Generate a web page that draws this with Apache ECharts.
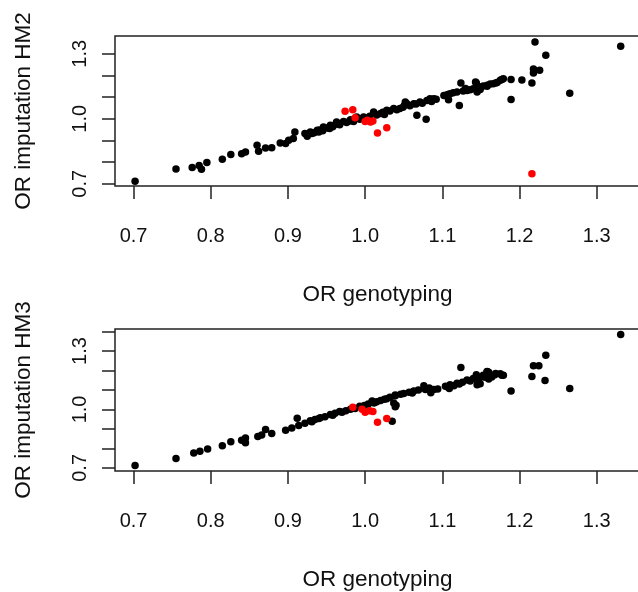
<!DOCTYPE html>
<html>
<head>
<meta charset="utf-8">
<script src="https://cdn.jsdelivr.net/npm/echarts@6/dist/echarts.min.js"></script>
<style>
html,body{margin:0;padding:0;overflow:hidden;background:#fff;}
#c{width:644px;height:592px;}
</style>
</head>
<body>
<div id="c"></div>
<script>
// ---- data ----
const xTicks = [0.7, 0.8, 0.9, 1.0, 1.1, 1.2, 1.3];
const yTicksHM2 = [0.7, 0.8, 0.9, 1.0, 1.1, 1.2, 1.3];
const yTicksHM3 = [0.7, 0.8, 0.9, 1.0, 1.1, 1.2, 1.3, 1.4];
const yLabelVals = [0.7, 1.0, 1.3];
const xTitle = 'OR genotyping';
const yTitleHM2 = 'OR imputation HM2';
const yTitleHM3 = 'OR imputation HM3';

const hm2Black = [
 [0.702,0.712],[0.755,0.768],[0.776,0.775],[0.785,0.784],[0.788,0.767],[0.795,0.798],
 [0.815,0.813],[0.826,0.835],[0.840,0.839],[0.845,0.847],[0.860,0.878],[0.862,0.850],
 [0.871,0.865],[0.879,0.867],[0.890,0.888],[0.897,0.886],[0.901,0.901],[0.909,0.939],
 [0.907,0.909],[0.922,0.932],[0.925,0.919],[0.931,0.932],[0.940,0.939],[0.946,0.955],
 [0.929,0.939],[0.938,0.947],[0.946,0.962],[0.955,0.970],[0.963,0.985],[0.972,0.988],
 [0.981,0.996],[0.989,1.008],[0.998,1.008],[1.011,1.031],[1.020,1.024],[1.028,1.039],
 [1.037,1.047],[1.045,1.047],[1.054,1.070],[1.063,1.070],[1.071,1.077],[1.080,1.085],
 [1.089,1.093],[1.067,1.016],[1.079,0.998],
 [0.934,0.936],[0.941,0.948],[0.950,0.958],[0.958,0.963],[0.962,0.975],[0.967,0.972],
 [0.976,0.983],[0.980,0.990],[0.985,0.987],[0.993,0.998],[1.002,1.003],[1.006,1.012],
 [1.015,1.018],[1.023,1.030],[1.025,1.020],[1.032,1.036],[1.041,1.042],[1.049,1.053],
 [1.051,1.062],[1.058,1.060],[1.066,1.068],[1.074,1.072],[1.083,1.086],[1.086,1.080],
 [1.092,1.090],[0.954,0.955],[0.945,0.945],[1.052,1.077],[1.084,1.093],
 [1.104,1.108],[1.110,1.116],[1.119,1.124],[1.124,1.165],[1.122,1.061],[1.132,1.131],
 [1.140,1.139],[1.144,1.165],[1.149,1.147],[1.158,1.155],[1.166,1.162],[1.175,1.178],
 [1.179,1.185],[1.107,1.112],[1.114,1.120],[1.127,1.128],[1.136,1.134],[1.145,1.142],
 [1.153,1.151],[1.162,1.160],[1.171,1.168],[1.102,1.108],[1.108,1.088],[1.130,1.140],
 [1.145,1.124],[1.143,1.170],
 [1.149,1.135],[1.158,1.150],[1.169,1.165],[1.177,1.181],[1.189,1.181],[1.203,1.179],
 [1.189,1.089],[1.216,1.165],[1.218,1.211],[1.218,1.230],[1.226,1.224],[1.220,1.354],
 [1.234,1.293],[1.265,1.118],[1.331,1.335]
];
const hm2Red = [
 [0.974,1.035],[0.984,1.042],[0.987,1.005],[1.000,0.988],[1.003,0.993],[1.010,0.990],
 [1.007,0.985],[1.016,0.934],[1.028,0.959],[1.216,0.747]
];
const hm3Black = [
 [0.702,0.712],[0.755,0.748],[0.778,0.777],[0.786,0.785],[0.796,0.797],[0.815,0.813],
 [0.826,0.834],[0.840,0.842],[0.845,0.829],[0.845,0.853],[0.861,0.861],[0.871,0.897],
 [0.866,0.869],[0.879,0.877],[0.897,0.893],[0.905,0.905],[0.912,0.955],[0.914,0.917],
 [0.922,0.929],[0.931,0.937],[0.940,0.953],
 [0.929,0.942],[0.942,0.958],[0.955,0.974],[0.967,0.990],[0.981,1.001],[0.993,1.017],
 [1.009,1.043],[1.020,1.046],[1.032,1.062],[1.039,1.074],[1.040,1.022],[1.035,0.939],
 [1.050,1.082],[1.063,1.095],[1.076,1.122],[1.078,1.103],[1.089,1.103],
 [0.935,0.948],[0.948,0.962],[0.961,0.980],[0.975,0.993],[0.987,1.005],[0.999,1.020],
 [1.004,1.028],[1.015,1.040],[1.025,1.052],[1.028,1.055],[1.046,1.078],[1.057,1.088],
 [1.069,1.100],[1.083,1.110],[1.094,1.105],[0.970,0.985],[0.958,0.970],[1.012,1.035],
 [1.039,1.070],[1.039,1.014],[1.037,1.033],[1.011,1.035],[1.061,1.084],[1.085,1.086],
 [1.104,1.119],[1.110,1.127],[1.119,1.135],[1.124,1.215],[1.132,1.151],[1.140,1.159],
 [1.144,1.178],[1.153,1.175],[1.160,1.191],[1.164,1.167],[1.175,1.183],[1.179,1.175],
 [1.107,1.115],[1.115,1.122],[1.126,1.140],[1.136,1.146],[1.147,1.155],[1.155,1.165],
 [1.168,1.178],[1.109,1.108],[1.122,1.130],[1.145,1.167],[1.158,1.195],[1.145,1.127],
 [1.149,1.132],[1.158,1.193],[1.160,1.156],[1.169,1.185],[1.177,1.175],[1.189,1.095],
 [1.216,1.169],[1.218,1.224],[1.225,1.224],[1.234,1.278],[1.233,1.149],[1.265,1.108],
 [1.331,1.385]
];
const hm3Red = [
 [0.984,1.011],[0.996,1.001],[1.000,0.985],[1.006,0.993],[1.010,0.990],[1.016,0.934],
 [1.028,0.953]
];

// ---- chart ----
const FONT = 'Liberation Sans, Arial, Helvetica, sans-serif';
const INK = '#111';
const fmt = v => Number(v).toFixed(1);

function xAxisCfg(gi) {
  return {
    type: 'value', gridIndex: gi, min: 0.676, max: 1.356,
    name: xTitle, nameLocation: 'middle', nameGap: 97,
    nameTextStyle: {fontFamily: FONT, fontSize: 22.5, color: INK},
    axisLine: {show: false},
    splitLine: {show: false},
    axisTick: {show: true, inside: false, length: 13, customValues: xTicks,
               lineStyle: {color: '#222', width: 1.5}},
    axisLabel: {show: true, margin: 40, customValues: xTicks, formatter: fmt,
                fontFamily: FONT, fontSize: 20, color: INK}
  };
}
function yAxisCfg(gi, min, max, ticks, title) {
  return {
    type: 'value', gridIndex: gi, min: min, max: max,
    name: title, nameLocation: 'middle', nameGap: 80, nameRotate: 90,
    nameTextStyle: {fontFamily: FONT, fontSize: 22.5, color: INK},
    axisLine: {show: false},
    splitLine: {show: false},
    axisTick: {show: true, inside: false, length: 13, customValues: ticks,
               lineStyle: {color: '#222', width: 1.5}},
    axisLabel: {show: true, margin: 25, rotate: 90, customValues: yLabelVals, formatter: fmt,
                fontFamily: FONT, fontSize: 20, color: INK}
  };
}
function sc(data, gi, color) {
  return {
    type: 'scatter', xAxisIndex: gi, yAxisIndex: gi, data: data,
    symbol: 'circle', symbolSize: 7.5, silent: true, animation: false,
    itemStyle: {color: color, opacity: 1}
  };
}

const chart = echarts.init(document.getElementById('c'), null, {renderer: 'canvas'});
chart.setOption({
  backgroundColor: '#fff',
  animation: false,
  grid: [
    {left: 115, top: 36, width: 525, height: 150, show: true, borderColor: '#222', borderWidth: 1.5, backgroundColor: 'transparent'},
    {left: 115, top: 329, width: 525, height: 151, show: true, borderColor: '#222', borderWidth: 1.5, backgroundColor: 'transparent'}
  ],
  xAxis: [xAxisCfg(0), xAxisCfg(1)],
  yAxis: [
    yAxisCfg(0, 0.690, 1.382, yTicksHM2, yTitleHM2),
    yAxisCfg(1, 0.684, 1.413, yTicksHM3, yTitleHM3)
  ],
  series: [
    sc(hm2Black, 0, '#000'), sc(hm2Red, 0, '#ff0000'),
    sc(hm3Black, 1, '#000'), sc(hm3Red, 1, '#ff0000')
  ]
});
</script>
</body>
</html>
